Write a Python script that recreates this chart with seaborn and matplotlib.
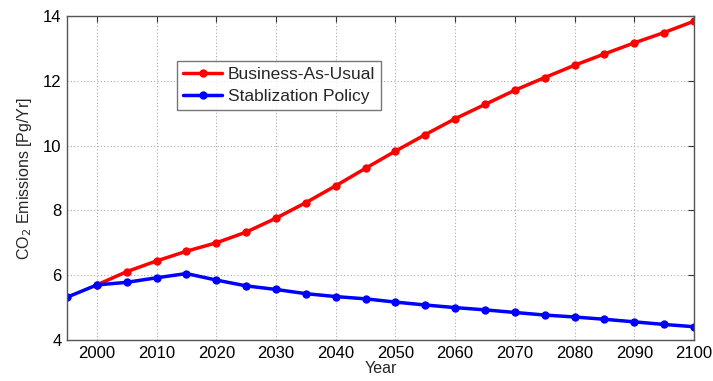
import matplotlib
matplotlib.use("Agg")
import matplotlib.pyplot as plt
import seaborn as sns
import pandas as pd

bau_years = [2000, 2005, 2010, 2015, 2020, 2025, 2030, 2035, 2040, 2045, 2050,
             2055, 2060, 2065, 2070, 2075, 2080, 2085, 2090, 2095, 2100]
bau_values = [5.70, 6.11, 6.44, 6.74, 7.00, 7.33, 7.76, 8.24, 8.76, 9.30, 9.83,
              10.34, 10.83, 11.27, 11.71, 12.10, 12.48, 12.83, 13.17, 13.49, 13.84]
stab_years = [1995, 2000, 2005, 2010, 2015, 2020, 2025, 2030, 2035, 2040, 2045,
              2050, 2055, 2060, 2065, 2070, 2075, 2080, 2085, 2090, 2095, 2100]
stab_values = [5.32, 5.70, 5.78, 5.92, 6.05, 5.85, 5.67, 5.56, 5.43, 5.34, 5.27,
               5.17, 5.08, 5.00, 4.93, 4.85, 4.77, 4.71, 4.64, 4.56, 4.48, 4.41]
series_names = ["Business-As-Usual", "Stablization Policy"]
colors = ["#ff0000", "#0000ff"]
x_ticks = [2000, 2010, 2020, 2030, 2040, 2050, 2060, 2070, 2080, 2090, 2100]
y_ticks = [4, 6, 8, 10, 12, 14]

sns.set_style("white")
plt.rcParams['font.family'] = ['Liberation Sans', 'DejaVu Sans']

df = pd.concat([
    pd.DataFrame({"Year": bau_years, "Value": bau_values, "Series": series_names[0]}),
    pd.DataFrame({"Year": stab_years, "Value": stab_values, "Series": series_names[1]}),
])

fig = plt.figure(figsize=(7.13, 3.81), dpi=100)
ax = fig.add_axes([67/713, 1 - 340/381, (694-67)/713, (340-16)/381])

sns.lineplot(data=df, x="Year", y="Value", hue="Series", palette=colors,
             marker="o", markersize=6, markeredgewidth=0, linewidth=2.5,
             ax=ax, legend=True)

ax.set_xlim(1995, 2100)
ax.set_ylim(4, 14)
ax.set_xticks(x_ticks)
ax.set_yticks(y_ticks)
ax.tick_params(direction="in", top=True, right=True, length=4, width=0.8,
               labelsize=12, colors="#333333", labelcolor="black", pad=4)
ax.grid(True, linestyle=(0, (1, 2)), color="#aaaaaa", linewidth=0.8)
for s in ax.spines.values():
    s.set_color("#555555")
    s.set_linewidth(1.0)
ax.set_xlabel("Year", fontsize=11.5, labelpad=0)
ax.set_ylabel("CO$_2$ Emissions [Pg/Yr]", fontsize=11.5, labelpad=6)

leg = ax.legend(loc="upper left", bbox_to_anchor=(0.176, 0.862), fontsize=12.5,
                frameon=True, fancybox=False, edgecolor="#555555",
                handlelength=2.25, borderpad=0.35, labelspacing=0.38,
                handletextpad=0.3, borderaxespad=0)
leg.get_frame().set_linewidth(1.0)

fig.savefig("out.png", dpi=100)
